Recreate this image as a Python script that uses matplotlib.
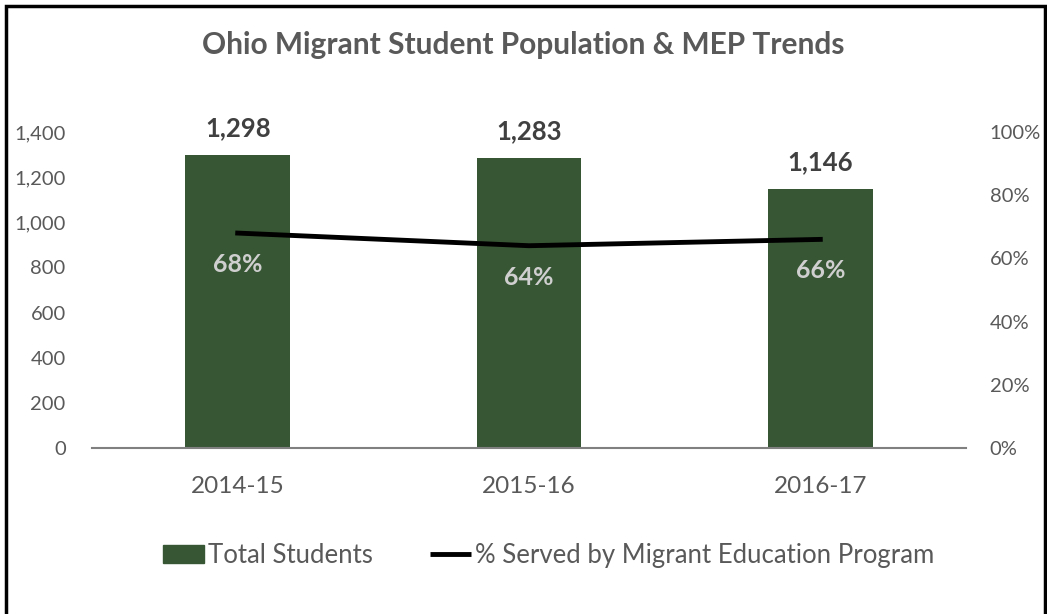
import matplotlib.pyplot as plt
from matplotlib.patches import Rectangle
from matplotlib.lines import Line2D
from matplotlib.patches import Patch

# Data
years = ["2014-15", "2015-16", "2016-17"]
total_students = [1298, 1283, 1146]
pct_served = [68, 64, 66]

plt.rcParams['font.family'] = ['Lato', 'DejaVu Sans']

green = "#375734"
gray = "#595959"

fig = plt.figure(figsize=(10.47, 6.14), dpi=100)
ax = fig.add_axes([0.0879, 0.2704, 0.8347, 0.5147])

x = range(len(years))
ax.bar(x, total_students, width=0.36, color=green, zorder=2)
ax.set_xlim(-0.5, 2.5)
ax.set_ylim(0, 1400)
ax.set_yticks(range(0, 1401, 200))
ax.set_yticklabels([f"{v:,}" for v in range(0, 1401, 200)])
ax.set_xticks(list(x))
ax.set_xticklabels(years)

# value labels above bars
for i, v in enumerate(total_students):
    ax.text(i, v + 120, f"{v:,}", ha="center", va="center",
            fontsize=18.5, fontweight="bold", color="#404040")

ax2 = ax.twinx()
ax2.plot(list(x), pct_served, color="black", lw=3.5, zorder=3)
ax2.set_ylim(0, 100)
ax2.set_yticks(range(0, 101, 20))
ax2.set_yticklabels([f"{v}%" for v in range(0, 101, 20)])
for i, v in enumerate(pct_served):
    ax2.text(i, v - 10, f"{v}%", ha="center", va="center",
             fontsize=18, fontweight="bold", color="#CFCFCF", zorder=4)

for a in (ax, ax2):
    for s in a.spines.values():
        s.set_visible(False)
    a.tick_params(length=0, colors=gray, labelsize=14.5)
ax.spines["bottom"].set_visible(True)
ax.spines["bottom"].set_color("#808080")
ax.spines["bottom"].set_linewidth(1.5)
ax.tick_params(axis="x", labelsize=17.5, pad=20)
ax.tick_params(axis="y", pad=19)
ax2.tick_params(axis="y", pad=17)

fig.text(0.5, 0.927, "Ohio Migrant Student Population & MEP Trends",
         ha="center", va="center", fontsize=21.5, fontweight="bold", color=gray)

handles = [Patch(color=green), Line2D([0], [0], color="black", lw=3.5, solid_capstyle="butt")]
leg = fig.legend(handles, ["Total Students", "% Served by Migrant Education Program"],
                 loc="center", bbox_to_anchor=(0.524, 0.096), ncol=2, frameon=False,
                 fontsize=18.5, handlelength=1.6, handletextpad=0.15, columnspacing=2.2)
for t in leg.get_texts():
    t.set_color(gray)

fig.patches.append(Rectangle((0.006, -0.01), 0.992, 1.0, transform=fig.transFigure,
                             fill=False, edgecolor="black", lw=2.5))

fig.savefig("out.png", dpi=100)
